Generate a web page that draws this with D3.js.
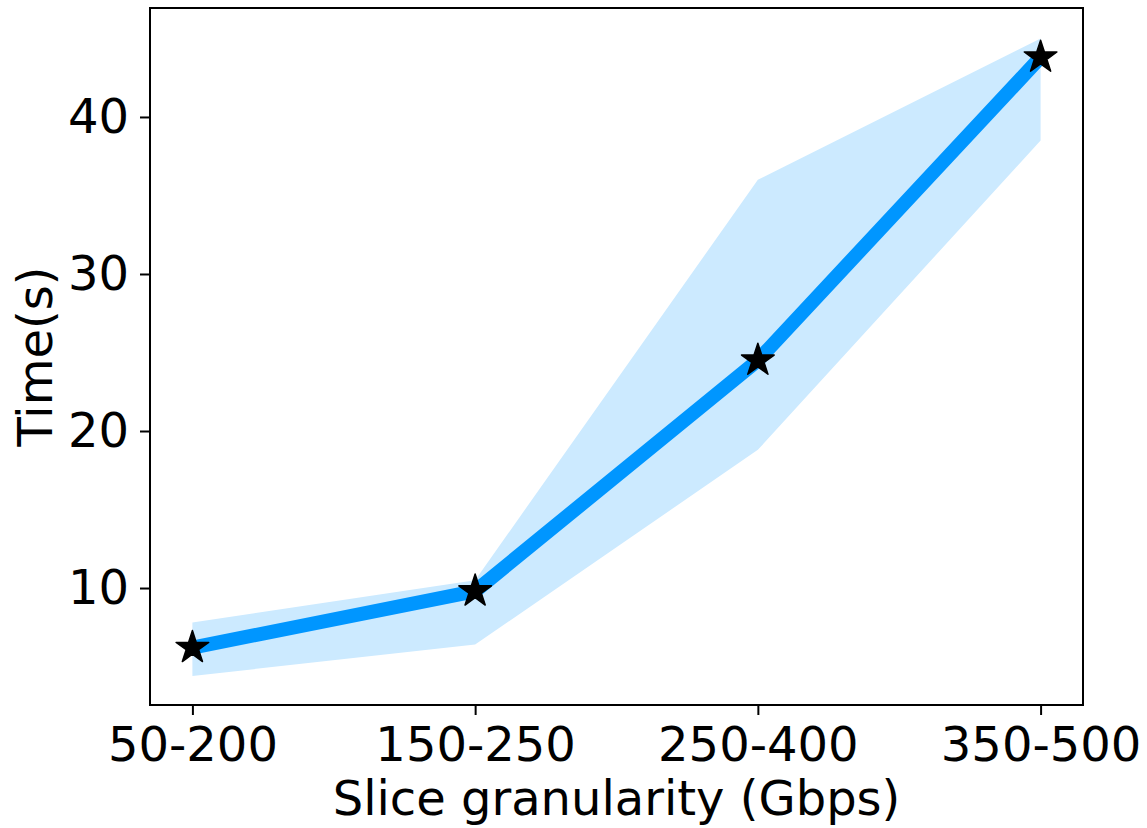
<!DOCTYPE html>
<html>
<head>
<meta charset="utf-8">
<script src="https://cdn.jsdelivr.net/npm/d3@7"></script>
<style>
  body { margin: 0; background: #fff; }
  text { font-family: "DejaVu Sans", sans-serif; }
</style>
</head>
<body>
<div id="chart"></div>
<script>
// data
var categories = ["50-200", "150-250", "250-400", "350-500"];
var meanTime = [6.2, 9.8, 24.5, 43.8];
var upperTime = [7.8, 10.5, 36.0, 45.0];
var lowerTime = [4.4, 6.4, 18.8, 38.5];
var yTicks = [10, 20, 30, 40];

var svgWidth = 1147;
var svgHeight = 828;

var margin = { top: 8, right: 64, bottom: 123, left: 150 };
var width = svgWidth - margin.left - margin.right;
var height = svgHeight - margin.top - margin.bottom;

var svg = d3.select("#chart")
  .append("svg")
  .attr("width", svgWidth)
  .attr("height", svgHeight);

var chartGroup = svg.append("g")
  .attr("transform", `translate(${margin.left}, ${margin.top})`);

var xScale = d3.scaleLinear()
  .domain([-0.15, 3.15])
  .range([0, width]);

var yScale = d3.scaleLinear()
  .domain([2.55, 46.94])
  .range([height, 0]);

var points = categories.map(function(c, i) {
  return { i: i, mean: meanTime[i], lo: lowerTime[i], hi: upperTime[i] };
});

// shaded band
var area = d3.area()
  .x(d => xScale(d.i))
  .y0(d => yScale(d.lo))
  .y1(d => yScale(d.hi));

chartGroup.append("path")
  .datum(points)
  .attr("d", area)
  .attr("fill", "#cceaff");

// mean line
var line = d3.line()
  .x(d => xScale(d.i))
  .y(d => yScale(d.mean));

chartGroup.append("path")
  .datum(points)
  .attr("d", line)
  .attr("fill", "none")
  .attr("stroke", "#0096ff")
  .attr("stroke-width", 14);

// star markers
chartGroup.selectAll(".star")
  .data(points)
  .enter()
  .append("path")
  .attr("class", "star")
  .attr("transform", d => `translate(${xScale(d.i)}, ${yScale(d.mean)})`)
  .attr("d", d3.symbol().type(d3.symbolStar).size(330))
  .attr("fill", "black")
  .attr("stroke", "black")
  .attr("stroke-width", 1.5)
  .attr("stroke-linejoin", "round");

// axes
var bottomAxis = d3.axisBottom(xScale)
  .tickValues(d3.range(categories.length))
  .tickFormat(i => categories[i])
  .tickSize(10)
  .tickPadding(12);

var leftAxis = d3.axisLeft(yScale)
  .tickValues(yTicks)
  .tickSize(10)
  .tickPadding(11);

var xAxisG = chartGroup.append("g")
  .attr("transform", `translate(0, ${height})`)
  .call(bottomAxis);

var yAxisG = chartGroup.append("g")
  .call(leftAxis);

[xAxisG, yAxisG].forEach(function(g) {
  g.select(".domain").remove();
  g.selectAll(".tick line").attr("stroke", "black").attr("stroke-width", 2);
  g.selectAll(".tick text")
    .attr("fill", "black")
    .style("font-size", "48px");
});

// frame
chartGroup.append("rect")
  .attr("width", width)
  .attr("height", height)
  .attr("fill", "none")
  .attr("stroke", "black")
  .attr("stroke-width", 2);

// axis labels
chartGroup.append("text")
  .attr("transform", "rotate(-90)")
  .attr("x", 0 - (height / 2))
  .attr("y", -98)
  .attr("text-anchor", "middle")
  .style("font-size", "48px")
  .text("Time(s)");

chartGroup.append("text")
  .attr("x", width / 2)
  .attr("y", height + 110)
  .attr("text-anchor", "middle")
  .style("font-size", "48px")
  .text("Slice granularity (Gbps)");
</script>
</body>
</html>
